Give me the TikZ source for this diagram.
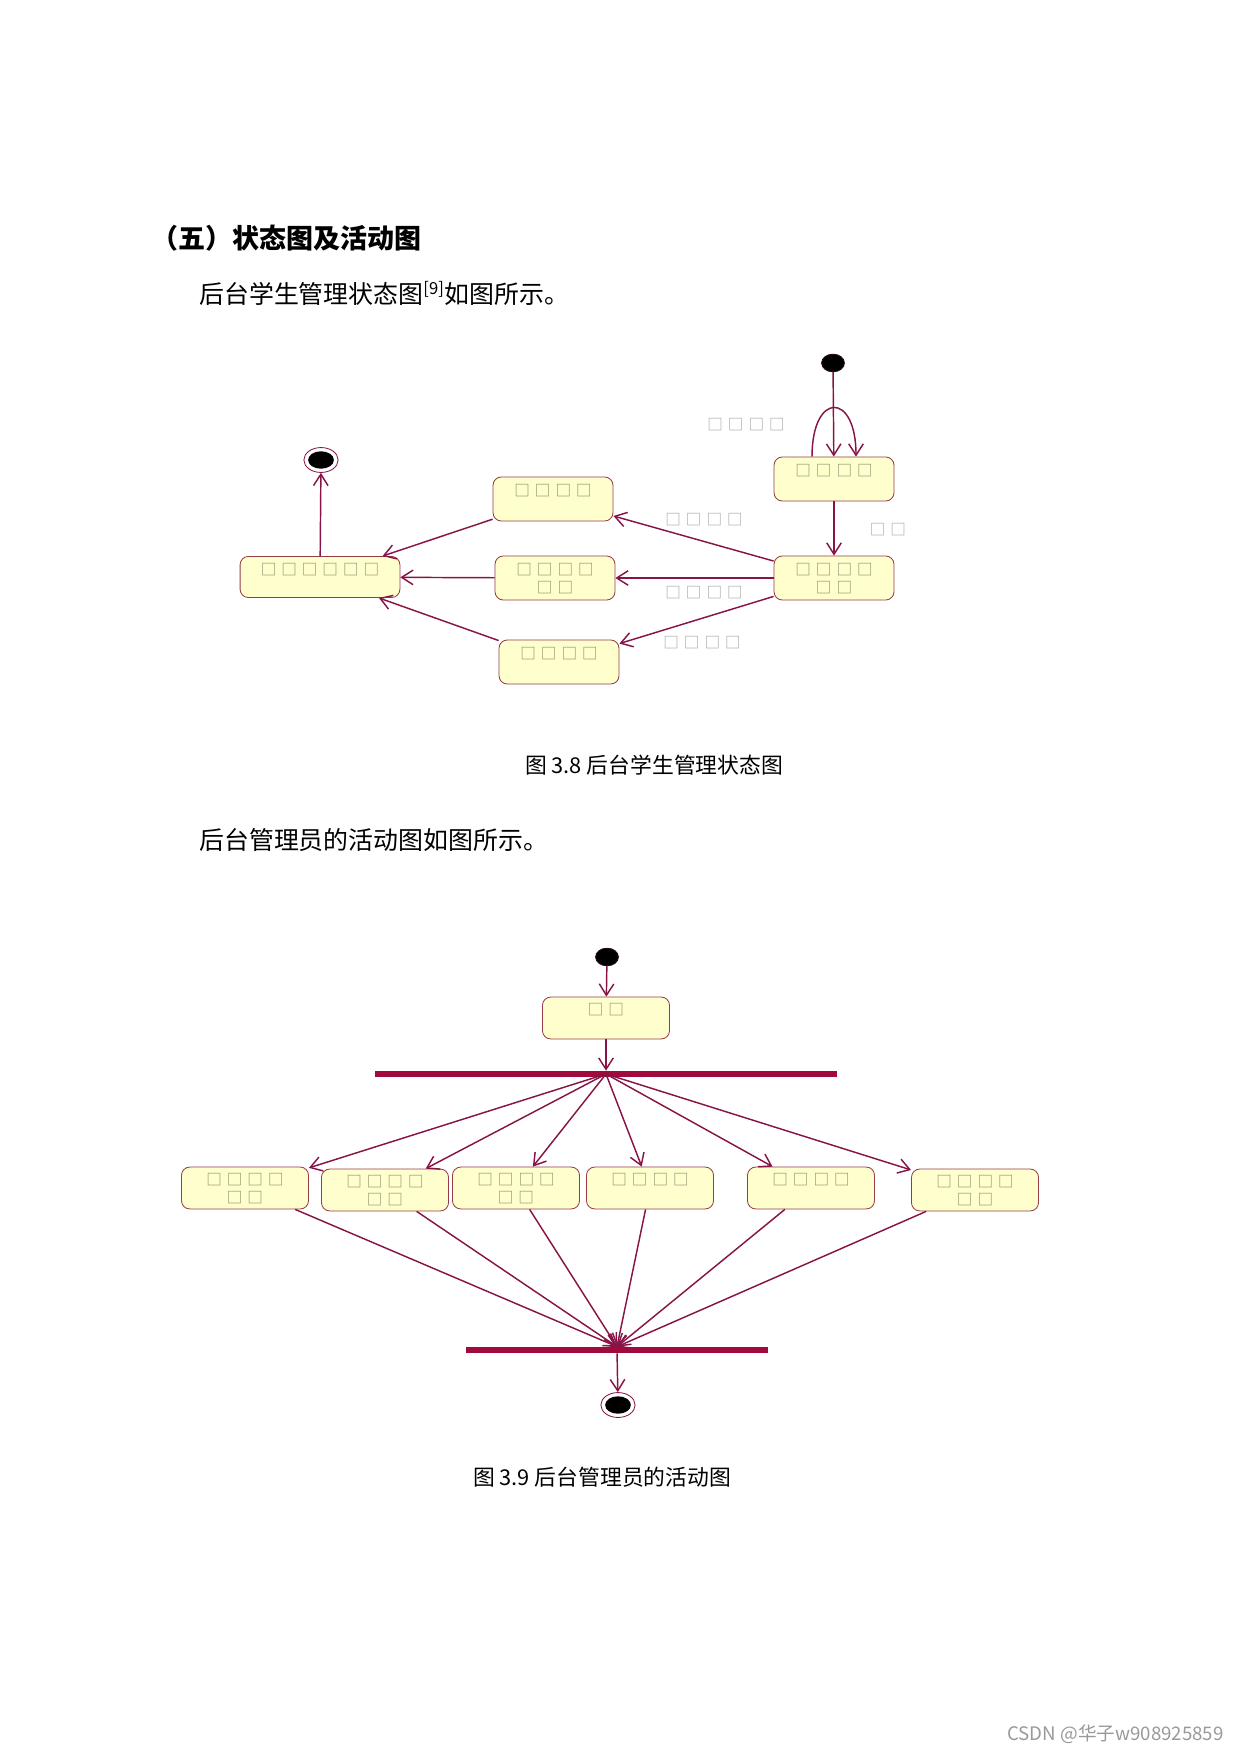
\documentclass[tikz,border=0pt]{standalone}
\usepackage{fontspec}
\usepackage{tikz}
\usetikzlibrary{arrows.meta,positioning,calc,shapes.geometric}
\newfontfamily\cjk{Noto Sans CJK SC}
\newcommand{\tofufont}{\cjk\fontsize{7.5}{8.8}\selectfont\spaceskip=2.4pt\relax}
\definecolor{umlline}{RGB}{135,20,70}
\definecolor{umlfill}{RGB}{255,255,206}
\definecolor{umledge}{RGB}{150,60,70}
\definecolor{umlbar}{RGB}{160,10,60}
\definecolor{tofugray}{RGB}{135,135,105}
\definecolor{labgray}{RGB}{160,160,160}
\tikzset{
  statebox/.style={draw=umledge, fill=umlfill, rounded corners=4pt, minimum width=57.8pt, inner xsep=2pt, inner ysep=2pt, text height=7.2pt, text depth=10pt, align=center, text=tofugray, font=\tofufont},
  twoline/.style={text height=16pt, text depth=1.2pt},
  actbox/.style={statebox, minimum width=61.2pt, text height=6.8pt, text depth=9.4pt},
  acttwo/.style={text height=15.6pt, text depth=0.6pt},
  initdot/.style={draw=black!70!umlline, fill=black, ellipse, minimum width=11pt, minimum height=8.5pt, inner sep=0pt},
  finaldot/.style={draw=umlline, fill=white, ellipse, minimum width=16.5pt, minimum height=12pt, inner sep=0pt,
    path picture={\fill[black] (path picture bounding box.center) ellipse (6.2pt and 4.2pt);}},
  barnode/.style={fill=umlbar, rectangle, minimum height=2.8pt, inner sep=0pt},
  cline/.style={draw=umlline, line width=0.7pt, -{Straight Barb[length=5.5pt,width=7pt]}},
  elabel/.style={text=labgray, font=\tofufont},
  bodytext/.style={font=\cjk\fontsize{12}{14}\selectfont, anchor=west},
  captext/.style={font=\cjk\fontsize{10.5}{12}\selectfont},
}

\begin{document}
\begin{tikzpicture}[x=0.4818pt, y=-0.4818pt]
  \useasboundingbox (0,0) rectangle (1240,1753);

  \node[anchor=west, font=\cjk\bfseries\fontsize{13}{15}\selectfont] (head) at (144,238) {（五）状态图及活动图};
  \node[bodytext] (para1) at (192,293) {后台学生管理状态图\textsuperscript{[9]}如图所示。};

  \node[initdot]  (s1)  at (833,363) {};
  \node[statebox] (stA) at (834,479) {□ □ □ □};
  \node[statebox, twoline] (stB) at (834,578) {□ □ □ □\\□ □};
  \node[statebox] (stC) at (553,499) {□ □ □ □};
  \node[statebox, twoline] (stD) at (555,578) {□ □ □ □\\□ □};
  \node[statebox] (stE) at (559,662) {□ □ □ □};
  \node[statebox, minimum width=77pt, text depth=8.6pt] (stF) at (320,577) {□ □ □ □ □ □};
  \node[finaldot] (e1)  at (321,460) {};

  \draw[cline] (s1) -- (stA);
  \draw[cline] ([xshift=-10.6pt]stA.north) to[out=90, in=90, looseness=3.8] ([xshift=10.6pt]stA.north);
  \draw[cline] (stA) -- (stB);
  \draw[cline] (stB) -- (stC);
  \draw[cline] (stB) -- (stD);
  \draw[cline] (stB) -- (stE);
  \draw[cline] (stC) -- (stF);
  \draw[cline] (stD) -- (stF);
  \draw[cline] (stE) -- (stF);
  \draw[cline] (stF) -- (e1);

  \node[elabel] (lbLoop) at (746,425) {□ □ □ □};
  \node[elabel] (lbNext) at (888,530) {□ □};
  \node[elabel] (lbC)    at (704,520) {□ □ □ □};
  \node[elabel] (lbD)    at (704,593) {□ □ □ □};
  \node[elabel] (lbE)    at (702,643) {□ □ □ □};

  \node[captext] (cap1) at (654,765) {图 3.8 后台学生管理状态图};
  \node[bodytext] (para2) at (192,840) {后台管理员的活动图如图所示。};

  \node[initdot] (s2)  at (607,957) {};
  \node[actbox]  (acT) at (606,1018) {□ □};
  \node[barnode, minimum width=223pt] (forkbar) at (606,1074) {};

  \node[actbox, acttwo] (ac1) at (245,1188) {□ □ □ □\\□ □};
  \node[actbox, acttwo] (ac2) at (385,1190) {□ □ □ □\\□ □};
  \node[actbox, acttwo] (ac3) at (516,1188) {□ □ □ □\\□ □};
  \node[actbox] (ac4) at (650,1188) {□ □ □ □};
  \node[actbox] (ac5) at (811,1188) {□ □ □ □};
  \node[actbox, acttwo] (ac6) at (975,1190) {□ □ □ □\\□ □};

  \node[barnode, minimum width=145.5pt] (joinbar) at (617,1350) {};
  \node[finaldot] (e2) at (618,1405) {};

  \draw[cline] (s2) -- (acT);
  \draw[cline] (acT) -- (forkbar);
  \foreach \b in {ac1,ac2,ac3,ac4,ac5,ac6}
    \draw[cline] (forkbar.center) -- (\b);
  \foreach \b in {ac1,ac2,ac3,ac4,ac5,ac6}
    \draw[cline] (\b) -- (joinbar.north);
  \draw[cline] (joinbar) -- (e2);

  \node[captext] (cap2) at (602,1477) {图 3.9 后台管理员的活动图};

  \node[anchor=east, text=black!40, font=\cjk\fontsize{9}{10}\selectfont] (mark) at (1231,1734) {CSDN @华子w908925859};
\end{tikzpicture}
\end{document}
